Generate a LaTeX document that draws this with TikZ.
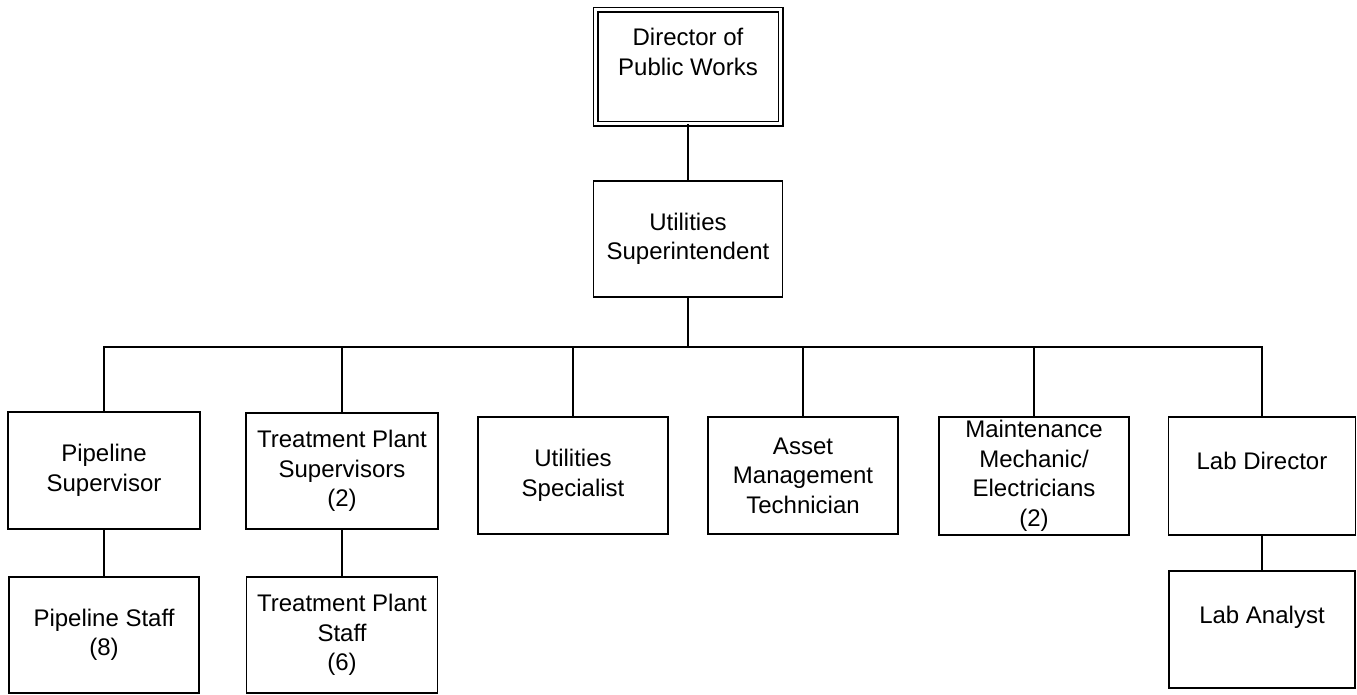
\documentclass[tikz,border=0pt]{standalone}
\usepackage{fontspec}
\setmainfont{Liberation Sans}
\begin{document}
\begin{tikzpicture}[x=1pt,y=-1pt,
  box/.style={draw, line width=1.8pt, inner sep=0pt, align=center,
    font=\fontsize{24}{29.5}\selectfont, minimum width=#1, minimum height=117pt},
  box/.default=190pt,
  link/.style={line width=1.8pt}]
\useasboundingbox (0,0) rectangle (1357,694);
% top
\node[box=185pt, minimum height=114pt, line width=1.5pt, double=white, double distance=3pt] (dir) at (688,66.5) {Director of\\Public Works\\\mbox{}};
\node[box=189pt, minimum height=116pt] (sup) at (688,239) {Utilities\\Superintendent};
% second row
\node[box=192pt] (ps) at (104,470.5) {Pipeline\\Supervisor};
\node[box=192pt, minimum height=116pt] (tps) at (342,471) {Treatment Plant\\Supervisors\\(2)};
\node[box] (us) at (573,475.5) {Utilities\\Specialist};
\node[box] (amt) at (803,475.5) {Asset\\Management\\Technician};
\node[box, minimum height=118pt] (mme) at (1034,476) {Maintenance\\Mechanic/\\Electricians\\(2)};
\node[box=187pt, minimum height=118pt] (ld) at (1262,476) {Lab Director\\\mbox{}};
% third row
\node[box, minimum height=116pt] (pst) at (104,635) {Pipeline Staff\\(8)};
\node[box=191pt, minimum height=116pt] (tpst) at (342,635) {Treatment Plant\\Staff\\(6)};
\node[box=186pt] (la) at (1262,629.5) {Lab Analyst\\\mbox{}};
% connectors
\coordinate (bus) at (0,347);
\draw[link] (dir.south) -- (sup.north);
\draw[link] (sup.south) -- (sup.south |- bus);
\draw[link] (ps.north) -- (ps.north |- bus) -- (ld.north |- bus) -- (ld.north);
\draw[link] (tps.north) -- (tps.north |- bus);
\draw[link] (us.north) -- (us.north |- bus);
\draw[link] (amt.north) -- (amt.north |- bus);
\draw[link] (mme.north) -- (mme.north |- bus);
\draw[link] (ps.south) -- (pst.north);
\draw[link] (tps.south) -- (tpst.north);
\draw[link] (ld.south) -- (la.north);
\end{tikzpicture}
\end{document}
